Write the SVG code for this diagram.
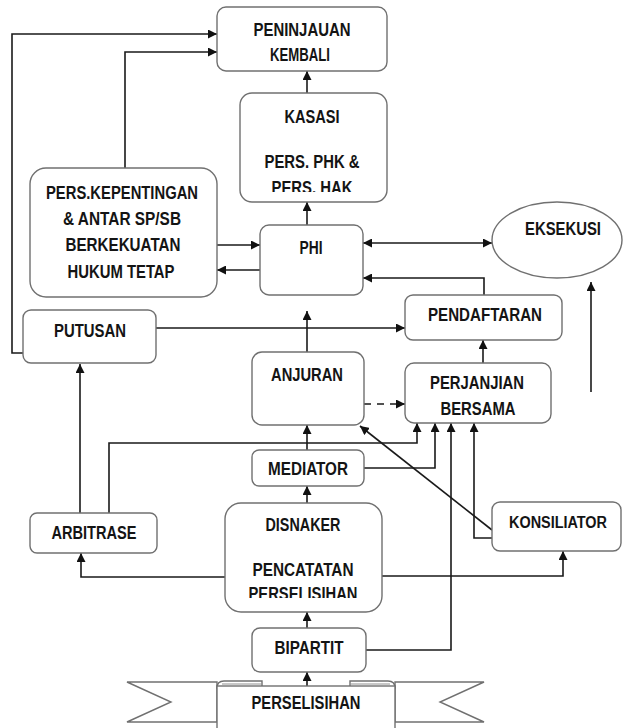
<svg xmlns="http://www.w3.org/2000/svg" width="623" height="728" viewBox="0 0 623 728">
<style>
.box{fill:#fff;stroke:#707070;stroke-width:1.4}
.t{font-family:"Liberation Sans Narrow","Liberation Sans",Arial,sans-serif;font-weight:bold;font-size:18px;fill:#141414;text-anchor:middle}
.c{fill:none;stroke:#1a1a1a;stroke-width:1.6}
.a{marker-end:url(#ah)}
.d{stroke-dasharray:7 6}
</style>
<defs>
<marker id="ah" viewBox="0 0 10 10" refX="10" refY="5" markerWidth="9" markerHeight="9" markerUnits="userSpaceOnUse" orient="auto-start-reverse">
<path d="M0,0 L10,5 L0,10 Z" fill="#111"/>
</marker>
<clipPath id="clipK"><rect x="240" y="93" width="147" height="99"/></clipPath>
<clipPath id="clipD"><rect x="225" y="503" width="157" height="95"/></clipPath>
</defs>
<rect width="623" height="728" fill="#fff"/>

<g id="connectors">
<path class="c a" d="M23,353 H12 V34 H217"/>
<path class="c a" d="M125,168 V52 H217"/>
<path class="c a" d="M307,93 V71"/>
<path class="c a" d="M307,225 V202"/>
<path class="c a" d="M217,245 H260"/>
<path class="c a" d="M260,270 H217"/>
<path class="c a" d="M363,243 H492" marker-start="url(#ah)"/>
<path class="c a" d="M484,295 V278 H363"/>
<path class="c a" d="M156,328 H405"/>
<path class="c a" d="M307,352 V311"/>
<path class="c a d" d="M364,404 H405"/>
<path class="c a" d="M483,363 V340"/>
<path class="c a" d="M591,392 V282"/>
<path class="c a" d="M109,513 V443 H417 V423"/>
<path class="c a" d="M364,468 H435 V423"/>
<path class="c a" d="M366,650 H451 V423"/>
<path class="c a" d="M492,538 H474 V423"/>
<path class="c a" d="M492,530 L360,426"/>
<path class="c a" d="M307,450 V425"/>
<path class="c a" d="M307,503 V486"/>
<path class="c a" d="M80,513 V364"/>
<path class="c a" d="M225,577 H81 V553"/>
<path class="c a" d="M382,576 H563 V551"/>
<path class="c a" d="M307,628 V612"/>
<path class="c a" d="M307,686 V672"/>
</g>

<g id="peninjauan">
<rect class="box" x="217" y="7" width="170" height="64" rx="9"/>
<text class="t" x="302" y="36" textLength="97" lengthAdjust="spacingAndGlyphs">PENINJAUAN</text>
<text class="t" x="300" y="61" textLength="60" lengthAdjust="spacingAndGlyphs">KEMBALI</text>
</g>

<g id="kasasi">
<rect class="box" x="240" y="93" width="147" height="109" rx="12"/>
<text class="t" x="312" y="123" textLength="55" lengthAdjust="spacingAndGlyphs">KASASI</text>
<text class="t" x="312" y="168" textLength="95" lengthAdjust="spacingAndGlyphs">PERS. PHK &amp;</text>
<text class="t" x="312" y="194" textLength="81" lengthAdjust="spacingAndGlyphs" clip-path="url(#clipK)">PERS. HAK</text>
</g>

<g id="pers-kepentingan">
<rect class="box" x="30" y="168" width="187" height="129" rx="16"/>
<text class="t" x="122" y="199" textLength="152" lengthAdjust="spacingAndGlyphs">PERS.KEPENTINGAN</text>
<text class="t" x="122" y="225" textLength="118" lengthAdjust="spacingAndGlyphs">&amp; ANTAR SP/SB</text>
<text class="t" x="123" y="251" textLength="115" lengthAdjust="spacingAndGlyphs">BERKEKUATAN</text>
<text class="t" x="121" y="278" textLength="107" lengthAdjust="spacingAndGlyphs">HUKUM TETAP</text>
</g>

<g id="phi">
<rect class="box" x="260" y="225" width="103" height="70" rx="9"/>
<text class="t" x="311" y="254" textLength="23" lengthAdjust="spacingAndGlyphs">PHI</text>
</g>

<g id="eksekusi">
<ellipse class="box" cx="557" cy="240" rx="65" ry="38"/>
<text class="t" x="563" y="235" textLength="76" lengthAdjust="spacingAndGlyphs">EKSEKUSI</text>
</g>

<g id="pendaftaran">
<rect class="box" x="405" y="295" width="157" height="45" rx="8"/>
<text class="t" x="485" y="321" textLength="114" lengthAdjust="spacingAndGlyphs">PENDAFTARAN</text>
</g>

<g id="putusan">
<rect class="box" x="23" y="310" width="133" height="53" rx="8"/>
<text class="t" x="90" y="337" textLength="72" lengthAdjust="spacingAndGlyphs">PUTUSAN</text>
</g>

<g id="anjuran">
<rect class="box" x="252" y="352" width="112" height="73" rx="10"/>
<text class="t" x="307" y="381" textLength="72" lengthAdjust="spacingAndGlyphs">ANJURAN</text>
</g>

<g id="perjanjian">
<rect class="box" x="405" y="363" width="146" height="60" rx="9"/>
<text class="t" x="477" y="389" textLength="94" lengthAdjust="spacingAndGlyphs">PERJANJIAN</text>
<text class="t" x="478" y="415" textLength="75" lengthAdjust="spacingAndGlyphs">BERSAMA</text>
</g>

<g id="mediator">
<rect class="box" x="252" y="450" width="112" height="36" rx="7"/>
<text class="t" x="308" y="475" textLength="80" lengthAdjust="spacingAndGlyphs">MEDIATOR</text>
</g>

<g id="disnaker">
<rect class="box" x="225" y="503" width="157" height="109" rx="16"/>
<text class="t" x="303" y="531" textLength="75" lengthAdjust="spacingAndGlyphs">DISNAKER</text>
<text class="t" x="303" y="576" textLength="101" lengthAdjust="spacingAndGlyphs">PENCATATAN</text>
<text class="t" x="303" y="600" textLength="109" lengthAdjust="spacingAndGlyphs" clip-path="url(#clipD)">PERSELISIHAN</text>
</g>

<g id="arbitrase">
<rect class="box" x="30" y="513" width="127" height="40" rx="7"/>
<text class="t" x="94" y="539" textLength="85" lengthAdjust="spacingAndGlyphs">ARBITRASE</text>
</g>

<g id="konsiliator">
<rect class="box" x="492" y="502" width="129" height="49" rx="8"/>
<text class="t" x="558" y="528" style="font-size:16px" textLength="98" lengthAdjust="spacingAndGlyphs">KONSILIATOR</text>
</g>

<g id="bipartit">
<rect class="box" x="252" y="628" width="114" height="44" rx="8"/>
<text class="t" x="309" y="654" textLength="69" lengthAdjust="spacingAndGlyphs">BIPARTIT</text>
</g>

<g id="perselisihan">
<path class="box" d="M217,682 H127 L171,702 L127,722 H217 Z"/>
<path class="box" d="M395,682 H484 L440,702 L484,722 H395 Z"/>
<path class="box" d="M217,688 Q217,681 224,681 H262 V688 Z"/>
<path class="box" d="M395,688 Q395,681 388,681 H350 V688 Z"/>
<path d="M222,684 H262 M350,684 H390" fill="none" stroke="#909090" stroke-width="1"/>
<rect class="box" x="217" y="686" width="178" height="46"/>
<text class="t" x="306" y="709" textLength="109" lengthAdjust="spacingAndGlyphs">PERSELISIHAN</text>
</g>
</svg>
